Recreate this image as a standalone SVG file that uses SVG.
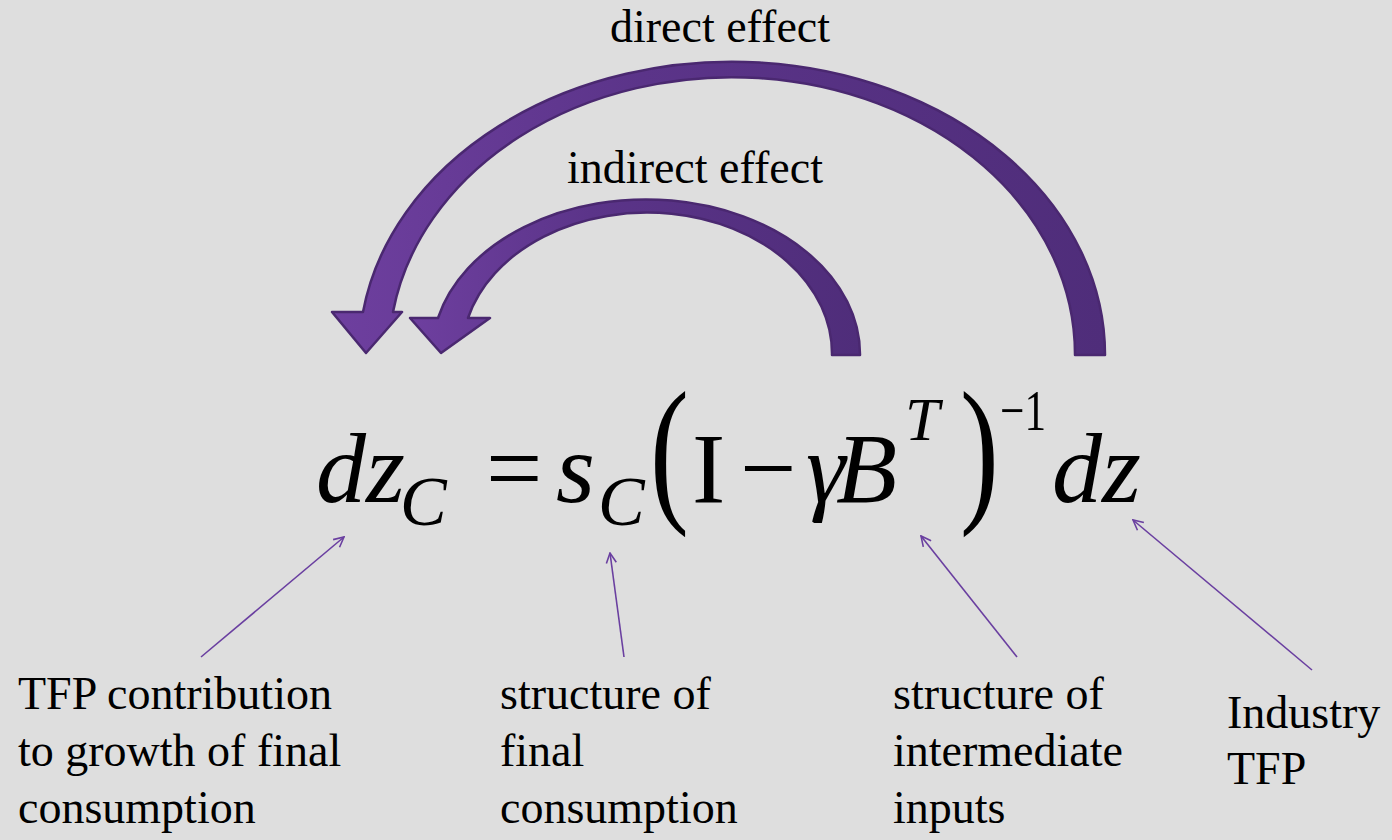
<svg xmlns="http://www.w3.org/2000/svg" width="1392" height="840" viewBox="0 0 1392 840">
<style>
.lbl{font-family:"Liberation Serif","Times New Roman",serif;font-size:46px;fill:#000}
.eq{font-family:"Liberation Serif","Times New Roman",serif;fill:#000}
.it{font-style:italic}
.ptr{stroke:#6a3fa0;stroke-width:1.6;fill:none;marker-end:url(#vh)}
.big{fill:url(#pg);stroke:#4a2870;stroke-width:2.5;stroke-linejoin:round}
</style>
<defs>
<linearGradient id="pg" x1="0" y1="0" x2="1" y2="0">
<stop offset="0" stop-color="#6e3f9f"/>
<stop offset="0.4" stop-color="#5b3489"/>
<stop offset="1" stop-color="#4f2d7a"/>
</linearGradient>
<marker id="vh" viewBox="0 0 12 12" refX="11" refY="6" markerWidth="12" markerHeight="12" markerUnits="userSpaceOnUse" orient="auto">
<path d="M1 1 L11 6 L1 11" fill="none" stroke="#6a3fa0" stroke-width="1.6"/>
</marker>
</defs>
<rect width="1392" height="840" fill="#dedede"/>
<g id="direct-effect">
<path class="big" d="M1105 355 A373 293 0 0 0 363 312 L332 312 L366 353 L402 312 L393 312 A343 277 0 0 1 1075 355 Z"/>
<text class="lbl" x="720" y="42" text-anchor="middle">direct effect</text>
</g>
<g id="indirect-effect">
<path class="big" d="M860 355 A214 155 0 0 0 438 318 L410 318 L441 353 L490 318 L468 318 A185 141 0 0 1 832 355 Z"/>
<text class="lbl" x="695" y="183" text-anchor="middle">indirect effect</text>
</g>
<g id="equation">
<text class="eq it" x="316" y="502" font-size="100">dz</text>
<text class="eq it" x="400" y="525" font-size="70">C</text>
<text class="eq" x="486" y="502" font-size="100">=</text>
<text class="eq it" x="556" y="502" font-size="100">s</text>
<text class="eq it" x="598" y="525" font-size="70">C</text>
<text class="eq" transform="translate(650,503) scale(0.72,1)" font-size="162">(</text>
<text class="eq" x="692" y="502" font-size="100">I</text>
<text class="eq" x="740" y="502" font-size="100">−</text>
<text class="eq it" x="806" y="502" font-size="100">γ</text>
<text class="eq it" x="836" y="502" font-size="100">B</text>
<text class="eq it" x="905" y="440" font-size="62">T</text>
<text class="eq" transform="translate(960,503) scale(0.72,1)" font-size="162">)</text>
<text class="eq" x="1000" y="430" font-size="58" textLength="46" lengthAdjust="spacingAndGlyphs">−1</text>
<text class="eq it" x="1052" y="502" font-size="100">dz</text>
</g>
<g id="connectors">
<line class="ptr" x1="201" y1="657" x2="344" y2="537"/>
<line class="ptr" x1="624" y1="657" x2="610" y2="553"/>
<line class="ptr" x1="1017" y1="657" x2="921" y2="536"/>
<line class="ptr" x1="1312" y1="670" x2="1133" y2="520"/>
</g>
<g id="label-tfp-contribution">
<text class="lbl" x="18" y="709">TFP contribution</text>
<text class="lbl" x="18" y="766">to growth of final</text>
<text class="lbl" x="18" y="823">consumption</text>
</g>
<g id="label-final-consumption">
<text class="lbl" x="500" y="709">structure of</text>
<text class="lbl" x="500" y="766">final</text>
<text class="lbl" x="500" y="823">consumption</text>
</g>
<g id="label-intermediate">
<text class="lbl" x="893" y="709">structure of</text>
<text class="lbl" x="893" y="766">intermediate</text>
<text class="lbl" x="893" y="823">inputs</text>
</g>
<g id="label-industry-tfp">
<text class="lbl" x="1227" y="728">Industry</text>
<text class="lbl" x="1227" y="784">TFP</text>
</g>
</svg>
